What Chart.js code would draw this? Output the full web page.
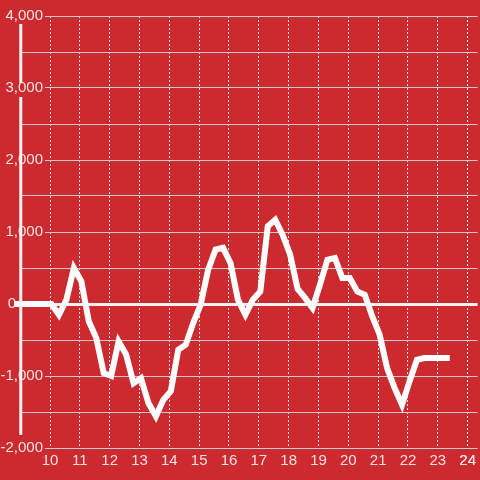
<!DOCTYPE html>
<html>
<head>
<meta charset="utf-8">
<script src="https://cdn.jsdelivr.net/npm/chart.js@4"></script>
<style>
  html, body { margin: 0; padding: 0; background: #cc2a2f; }
  canvas { display: block; }
</style>
</head>
<body>
<canvas id="chart" width="480" height="480"></canvas>
<script>
// Data (hour of day, value)
const hours = [8.8, 9.05, 9.3, 9.55, 9.8, 10.05, 10.3, 10.55, 10.8, 11.05, 11.3, 11.55, 11.8,
    12.05, 12.3, 12.55, 12.8, 13.05, 13.3, 13.55, 13.8, 14.05, 14.3, 14.55, 14.8,
    15.05, 15.3, 15.55, 15.8, 16.05, 16.3, 16.55, 16.8, 17.05, 17.3, 17.55, 17.8,
    18.05, 18.3, 18.55, 18.8, 19.05, 19.3, 19.55, 19.8, 20.05, 20.3, 20.55, 20.8,
    21.05, 21.3, 21.55, 21.8, 22.05, 22.3, 22.55, 22.8, 23.05, 23.3, 23.4];
const values = [0, 0, 0, 0, 0, 0, -150, 60, 500, 315, -240, -470, -960,
    -1000, -520, -700, -1100, -1030, -1375, -1560, -1330, -1210, -635, -565, -265,
    -10, 475, 755, 780, 570, 60, -150, 60, 175, 1080, 1170, 960,
    685, 210, 85, -55, 270, 615, 640, 360, 360, 175, 130, -170,
    -425, -890, -1165, -1400, -1075, -775, -750, -750, -750, -750, -750];

// Axis ranges
const X_MIN = 10;
const X_MAX = 24.3333;
const Y_MIN = -2000;
const Y_MAX = 4000;
const Y_STEP = 500;

// Colors
const COLOR_BG      = "#cc2a2f";
const COLOR_LINE    = "#ffffff";
const COLOR_TEXT    = "#f6e2e2";
const COLOR_GRID    = "#cccccc";
const COLOR_DASH    = "rgba(255,255,255,0.85)";
const COLOR_ZERO    = "#f2f2f2";

const FONT = { family: "'Liberation Sans', Arial, sans-serif", size: 15 };

function isLabelled(v) {
    return v % 1000 === 0 && v !== 0;
}

// Extra decorations: the white axis stroke and the zero label
const decorations = {
    id: "decorations",
    beforeDatasetsDraw(chart) {
        const ctx = chart.ctx;
        const xs = chart.scales.x;
        const ys = chart.scales.y;
        const ax = xs.getPixelForValue(9.02);
        ctx.save();
        ctx.strokeStyle = COLOR_ZERO;
        ctx.lineWidth = 3;
        ctx.beginPath();
        ctx.moveTo(ax, ys.getPixelForValue(3890));
        ctx.lineTo(ax, ys.getPixelForValue(3070));
        ctx.moveTo(ax, ys.getPixelForValue(2875));
        ctx.lineTo(ax, ys.getPixelForValue(-1820));
        ctx.stroke();

        ctx.fillStyle = COLOR_TEXT;
        ctx.font = FONT.size + "px " + FONT.family;
        ctx.textAlign = "right";
        ctx.textBaseline = "middle";
        ctx.fillText("0", 16, ys.getPixelForValue(0));
        ctx.restore();
    }
};

new Chart("chart", {
    type: "line",
    plugins: [decorations],
    data: {
        datasets: [{
            data: hours.map((h, i) => ({ x: h, y: values[i] })),
            borderColor: COLOR_LINE,
            borderWidth: 6,
            pointRadius: 0,
            tension: 0,
            fill: false,
            clip: false
        }]
    },
    options: {
        responsive: false,
        animation: false,
        devicePixelRatio: 1,
        layout: { padding: { top: 16, right: 0, bottom: 0, left: 0 } },
        plugins: {
            legend: { display: false },
            tooltip: { enabled: false }
        },
        scales: {
            x: {
                type: "linear",
                bounds: "data",
                // range set here (not via min/max) so the line is drawn from its first point
                afterDataLimits: (s) => { s.min = X_MIN; s.max = X_MAX; },
                afterBuildTicks: (s) => { s.ticks = s.ticks.filter(t => t.value >= X_MIN && t.value <= X_MAX); },
                afterFit: (s) => { s.height = 32; },
                grid: {
                    color: COLOR_DASH,
                    lineWidth: 1,
                    drawTicks: false
                },
                border: { display: false, dash: [2, 2] },
                ticks: {
                    stepSize: 1,
                    includeBounds: false,
                    padding: 4,
                    color: COLOR_TEXT,
                    font: FONT
                }
            },
            y: {
                min: Y_MIN,
                max: Y_MAX,
                afterFit: (s) => { s.width = 50; },
                grid: {
                    color: (c) => c.tick && c.tick.value === 0 ? COLOR_ZERO : COLOR_GRID,
                    lineWidth: (c) => c.tick && c.tick.value === 0 ? 3 : 1,
                    tickColor: (c) => c.tick && c.tick.value === 0 ? COLOR_ZERO : COLOR_GRID,
                    tickWidth: (c) => c.tick && c.tick.value === 0 ? 3 : 1,
                    tickLength: 29
                },
                border: { display: false },
                ticks: {
                    stepSize: Y_STEP,
                    padding: -22,
                    color: COLOR_TEXT,
                    font: FONT,
                    callback: (v) => isLabelled(v) ? v.toLocaleString("en-US") : "",
                    showLabelBackdrop: (c) => isLabelled(c.tick.value),
                    backdropColor: COLOR_BG,
                    backdropPadding: { left: 3, right: 2, top: 0, bottom: 0 }
                }
            }
        }
    }
});
</script>
</body>
</html>
